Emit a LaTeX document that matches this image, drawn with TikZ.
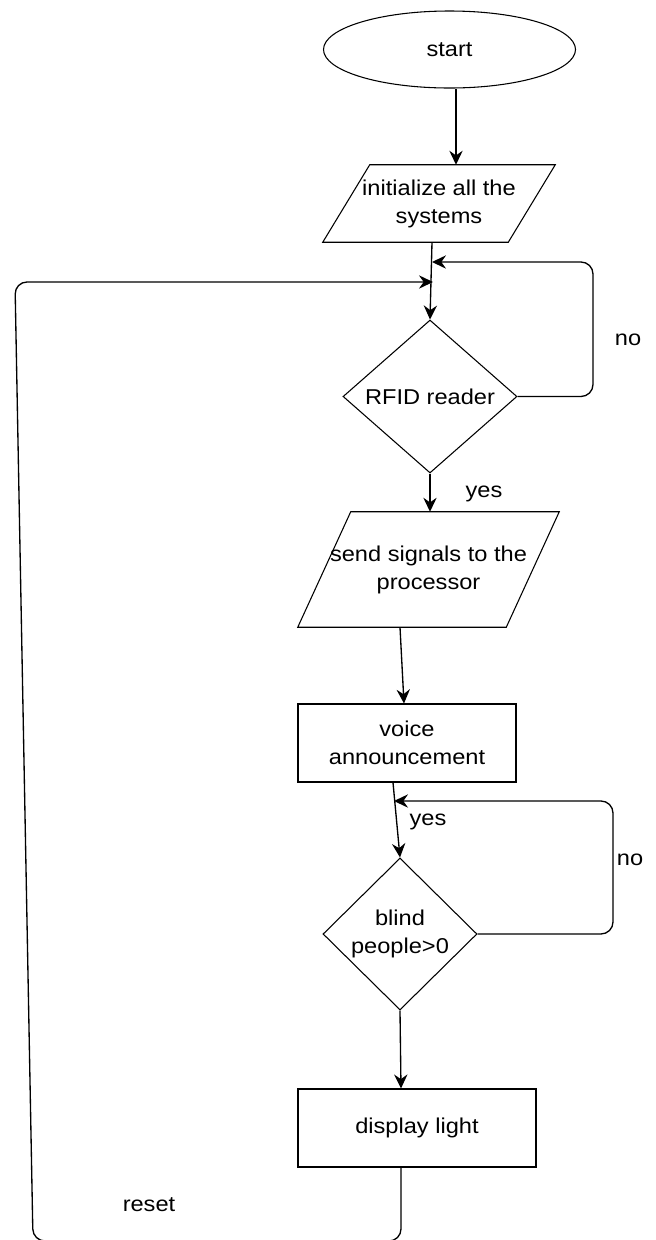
\documentclass[tikz,border=0pt]{standalone}
\usepackage{fontspec}
\setmainfont{Liberation Sans}[FakeStretch=1.1]
\usetikzlibrary{shapes.geometric,arrows.meta}
\begin{document}
\begin{tikzpicture}[x=0.75pt,y=-0.75pt,
  font=\fontsize{16.1pt}{21pt}\selectfont,
  box/.style={draw=black,line width=0.8pt,inner sep=0pt,align=center},
  term/.style={box,ellipse,minimum width=189pt,minimum height=57.75pt},
  ioframe/.style={rectangle,inner sep=0pt,align=center},
  outline/.style={draw=black,line width=0.8pt},
  proc/.style={box,rectangle,minimum height=58.5pt},
  test/.style={box,diamond},
  arr/.style={line width=1pt,-{Stealth[length=10.5pt,width=10pt,inset=3.5pt]}},
  loopline/.style={arr,rounded corners=9pt},
  lbl/.style={inner sep=0pt}]
\useasboundingbox (0,0) rectangle (656,1240);

% flow shapes
\node[term] (start) at (449.5,49.5) {start};

\node[ioframe,minimum width=174pt,minimum height=57.75pt] (init) at (439,203.5)
  {initialize all the\\systems};
\draw[outline] (init.south west) -- ([xshift=35.25pt]init.north west)
  -- (init.north east) -- ([xshift=-35.25pt]init.south east) -- cycle;

\node[test,minimum width=130.5pt,minimum height=114.75pt,
      label={center:RFID reader}] (rfid) at (430,396.5) {};

\node[ioframe,minimum width=195.75pt,minimum height=86.25pt] (send) at (428.5,569.5)
  {send signals to the\\processor};
\draw[outline] (send.south west) -- ([xshift=39.75pt]send.north west)
  -- (send.north east) -- ([xshift=-39.75pt]send.south east) -- cycle;

\node[proc,minimum width=163.5pt] (voice) at (407,743) {voice\\announcement};
\node[test,minimum width=115.5pt,minimum height=114pt,
      label={[align=center]center:blind\\people>0}] (blind) at (400,934) {};
\node[proc,minimum width=178.5pt] (light) at (417,1128) {display light};

% branch labels
\node[lbl] (no1) at (628,340) {no};
\node[lbl] (yes1) at (484,494) {yes};
\node[lbl] (yes2) at (428,822) {yes};
\node[lbl] (no2) at (630,860) {no};
\node[lbl] (rst) at (149,1205) {reset};

% routing points
\coordinate (c1) at (456,0);
\coordinate (c2) at (400,0);
\coordinate (j1) at (432,262);
\coordinate (j2) at (433,282);
\coordinate (r1) at (593,262);
\coordinate (j3) at (394,801);
\coordinate (r2) at (613,801);
\coordinate (b1) at (401,1241);
\coordinate (b2) at (33,1241);
\coordinate (t1) at (15,282);

% connectors
\draw[arr] (start.south -| c1) -- (init.north -| c1);
\draw[arr] (init.south -| j1) -- (rfid.north);
\draw[loopline] (rfid.east) -| (r1) -- (j1);
\draw[arr] (rfid.south) -- (send.north -| rfid.south);
\draw[arr] (send.south -| c2) -- ([xshift=-2.25pt]voice.north);
\draw[arr] ([xshift=-10.5pt]voice.south) -- (blind.north);
\draw[loopline] (blind.east) -| (r2) -- (j3);
\draw[arr] (blind.south) -- ([xshift=-12pt]light.north);
\draw[loopline] ([xshift=-12pt]light.south) -- (b1) -- (b2) -- (t1) -- (j2);
\end{tikzpicture}
\end{document}
